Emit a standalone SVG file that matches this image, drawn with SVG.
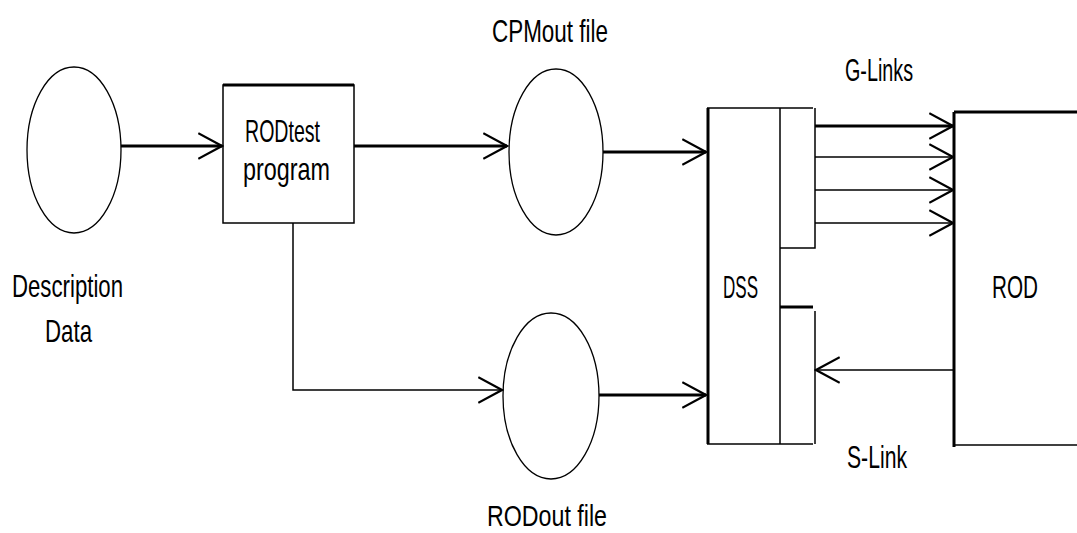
<svg xmlns="http://www.w3.org/2000/svg" width="1077" height="533" viewBox="0 0 1077 533">
<style>
text{font-family:"Liberation Sans",Arial,sans-serif;font-size:32px;fill:#000}
.ln{stroke:#000;fill:none;stroke-width:1.5}
.thk{stroke:#000;fill:none;stroke-width:3}
.ell{stroke:#000;fill:none;stroke-width:1.3}
</style>
<defs>
<marker id="ah" markerUnits="userSpaceOnUse" markerWidth="26" markerHeight="28" viewBox="0 0 24 26" refX="22" refY="13" orient="auto">
<path d="M0,1 L22,13 L0,25" fill="none" stroke="#000" stroke-width="2"/>
</marker>
</defs>
<rect width="1077" height="533" fill="#fff"/>
<g id="desc">
<ellipse class="ell" cx="74" cy="150" rx="47" ry="83"/>
<text x="12" y="297" textLength="111" lengthAdjust="spacingAndGlyphs">Description</text>
<text x="45" y="342" textLength="47" lengthAdjust="spacingAndGlyphs">Data</text>
</g>
<g id="rodtest">
<rect class="ln" x="223" y="85" width="131" height="138"/>
<line class="thk" x1="223" y1="85" x2="354" y2="85"/>
<text x="245" y="142" textLength="75" lengthAdjust="spacingAndGlyphs">RODtest</text>
<text x="243" y="180" textLength="87" lengthAdjust="spacingAndGlyphs">program</text>
</g>
<g id="cpmout">
<ellipse class="ell" cx="556" cy="152" rx="47" ry="83"/>
<text x="492" y="42" textLength="116" lengthAdjust="spacingAndGlyphs">CPMout file</text>
</g>
<g id="rodout">
<ellipse class="ell" cx="551" cy="396" rx="48" ry="83"/>
<text x="487" y="526" textLength="120" lengthAdjust="spacingAndGlyphs" style="font-size:30px">RODout file</text>
</g>
<g id="dss">
<line class="ln" x1="707" y1="108" x2="813" y2="108"/>
<line class="ln" x1="707" y1="444" x2="813" y2="444"/>
<line class="thk" x1="708" y1="108" x2="708" y2="444"/>
<line class="ln" x1="780" y1="108" x2="780" y2="444"/>
<path class="ln" d="M815,108 V248 H780"/>
<line class="thk" x1="780" y1="307" x2="813" y2="307"/>
<line class="ln" x1="815" y1="311" x2="815" y2="444"/>
<text x="723" y="298" textLength="35" lengthAdjust="spacingAndGlyphs">DSS</text>
</g>
<g id="rod">
<line class="thk" x1="954" y1="112" x2="1077" y2="112"/>
<line class="thk" x1="954" y1="112" x2="954" y2="447"/>
<line class="ln" x1="954" y1="445" x2="1077" y2="445"/>
<text x="992" y="298" textLength="46" lengthAdjust="spacingAndGlyphs">ROD</text>
</g>
<g id="labels">
<text x="845" y="81" textLength="68" lengthAdjust="spacingAndGlyphs">G-Links</text>
<text x="847" y="468" textLength="60" lengthAdjust="spacingAndGlyphs">S-Link</text>
</g>
<g id="connectors">
<line class="thk" x1="121" y1="146" x2="222" y2="146" marker-end="url(#ah)"/>
<line class="thk" x1="354" y1="146" x2="507" y2="146" marker-end="url(#ah)"/>
<line class="thk" x1="603" y1="152" x2="706" y2="152" marker-end="url(#ah)"/>
<path class="ln" d="M293,223 V390 H502" marker-end="url(#ah)"/>
<line class="thk" x1="599" y1="395" x2="706" y2="395" marker-end="url(#ah)"/>
<line class="thk" x1="815" y1="126" x2="953" y2="126" marker-end="url(#ah)"/>
<line class="ln" x1="815" y1="157" x2="953" y2="157" marker-end="url(#ah)"/>
<line class="ln" x1="815" y1="190" x2="953" y2="190" marker-end="url(#ah)"/>
<line class="ln" x1="815" y1="223" x2="953" y2="223" marker-end="url(#ah)"/>
<line class="ln" x1="954" y1="370" x2="816" y2="370" marker-end="url(#ah)"/>
</g>
</svg>
